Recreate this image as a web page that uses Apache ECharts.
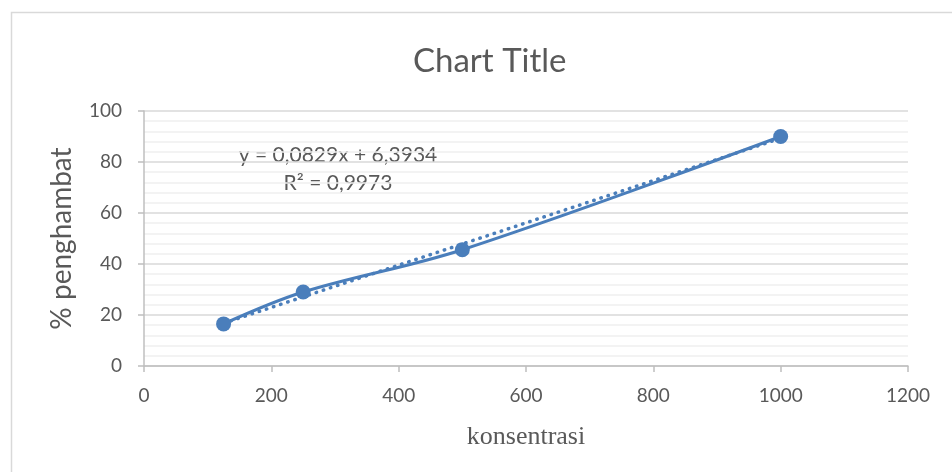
<!DOCTYPE html>
<html>
<head>
<meta charset="utf-8">
<script src="https://cdn.jsdelivr.net/npm/echarts@6/dist/echarts.min.js"></script>
<style>
  html, body { margin: 0; padding: 0; background: #ffffff; }
  #chart { width: 952px; height: 472px; }
</style>
</head>
<body>
<div id="chart"></div>
<script>
// Measured inhibition against concentration
const konsentrasi = [125, 250, 500, 1000];
const penghambat = [16.5, 29.0, 45.6, 90.0];

// Linear trendline as reported on the chart
const trendSlope = 0.0829;
const trendIntercept = 6.3934;
const trendR2 = 0.9973;

const xTicks = { min: 0, max: 1200, interval: 200 };
const yTicks = { min: 0, max: 100, interval: 20 };

const fmt = v => String(v).replace('.', ',');
const trendX = [konsentrasi[0], konsentrasi[konsentrasi.length - 1]];
const trendLine = trendX.map(x => [x, trendSlope * x + trendIntercept]);

const chart = echarts.init(document.getElementById('chart'), null, { renderer: 'canvas' });
const textColor = '#595959';
const sans = 'Lato, "Open Sans", sans-serif';

chart.setOption({
  animation: false,
  backgroundColor: '#ffffff',
  title: {
    text: 'Chart Title',
    left: 408,
    top: 40,
    textStyle: { fontFamily: sans, fontSize: 33, fontWeight: 'normal', color: textColor }
  },
  grid: { left: 144, right: 44, top: 111, bottom: 106, containLabel: false },
  xAxis: {
    type: 'value',
    min: xTicks.min, max: xTicks.max, interval: xTicks.interval,
    name: 'konsentrasi',
    nameLocation: 'middle',
    nameGap: 58,
    nameTextStyle: { fontFamily: '"Liberation Serif", serif', fontSize: 26, color: textColor },
    axisLine: { show: true, lineStyle: { color: '#bfbfbf', width: 1.5 } },
    axisTick: { show: true, inside: false, length: 6, lineStyle: { color: '#bfbfbf', width: 1.5 } },
    axisLabel: { fontFamily: sans, fontSize: 19, color: textColor, margin: 20, formatter: v => String(v) },
    splitLine: { show: false }
  },
  yAxis: {
    type: 'value',
    min: yTicks.min, max: yTicks.max, interval: yTicks.interval,
    name: '% penghambat',
    nameLocation: 'middle',
    nameGap: 68,
    nameRotate: 90,
    nameTextStyle: { fontFamily: sans, fontSize: 28, color: textColor },
    axisLine: { show: true, lineStyle: { color: '#bfbfbf', width: 1.5 } },
    axisTick: { show: true, inside: false, length: 6, lineStyle: { color: '#bfbfbf', width: 1.5 } },
    axisLabel: { fontFamily: sans, fontSize: 19, color: textColor, margin: 22 },
    splitLine: { show: true, lineStyle: { color: '#d9d9d9', width: 1.5 } },
    minorTick: { show: false, splitNumber: 5 },
    minorSplitLine: { show: true, lineStyle: { color: '#f0f0f0', width: 1.5 } }
  },
  series: [
    {
      name: 'trend',
      type: 'line',
      data: trendLine,
      showSymbol: false,
      lineStyle: { color: '#4a7ebb', width: 3.5, type: [0.5, 7], cap: 'round' },
      z: 2,
      silent: true
    },
    {
      name: 'penghambat',
      type: 'line',
      data: konsentrasi.map((x, i) => [x, penghambat[i]]),
      smooth: 0.35,
      symbol: 'circle',
      symbolSize: 15,
      itemStyle: { color: '#4a7ebb' },
      lineStyle: { color: '#4a7ebb', width: 3 },
      z: 3
    }
  ],
  graphic: [
    {
      type: 'rect',
      shape: { x: 11.5, y: 12.5, width: 1200, height: 1200 },
      style: { fill: 'none', stroke: '#d9d9d9', lineWidth: 1.5 },
      silent: true,
      z: -1
    },
    {
      type: 'text',
      x: 338,
      y: 155,
      style: {
        text: 'y = ' + fmt(trendSlope) + 'x + ' + fmt(trendIntercept),
        fontFamily: sans, fontSize: 21, fill: textColor,
        align: 'center', verticalAlign: 'middle'
      }
    },
    {
      type: 'text',
      x: 338,
      y: 183,
      style: {
        text: 'R² = ' + fmt(trendR2),
        fontFamily: sans, fontSize: 21, fill: textColor,
        align: 'center', verticalAlign: 'middle'
      }
    }
  ]
});
</script>
</body>
</html>
